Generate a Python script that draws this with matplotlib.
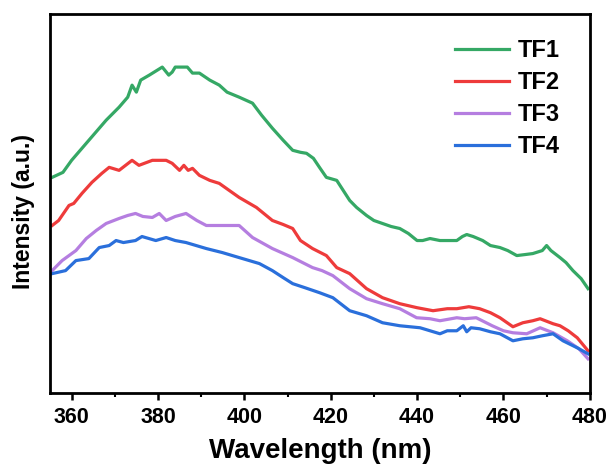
import matplotlib
matplotlib.use("Agg")
import matplotlib.pyplot as plt
from matplotlib.ticker import MultipleLocator
import numpy as np

plt.rcParams["font.family"] = ["Liberation Sans", "DejaVu Sans"]
plt.rcParams["font.weight"] = "bold"

# emission spectra (arbitrary intensity units)
wl_tf1 = [355.5, 358, 360, 362, 364, 366, 368, 371, 373, 374, 375, 376, 378, 381, 382.5,
          383.3, 384, 386.8, 388, 389.6, 392, 394.2, 396, 398.8, 401.9, 404, 406.5, 409,
          411.2, 413, 414.4, 416, 417.4, 419, 421.4, 424.4, 426, 428.3, 430, 432, 434, 436,
          438, 440, 441.3, 443, 445.3, 447, 449.2, 450.5, 451.5, 453, 455.2, 457, 459.2,
          461, 463.1, 465, 466.8, 469, 470, 471, 473.1, 474.5, 476.1, 478, 479.6]
tf1 = [215, 220, 232, 242, 252, 262, 272, 285, 295, 307, 300, 312, 317, 325, 317,
       320, 325, 325, 319, 319, 312, 307, 300, 295, 289, 277, 264, 252,
       242, 240, 239, 234, 225, 215, 212, 192, 185, 177, 172, 169, 166, 164,
       159, 152, 152, 154, 152, 152, 152, 156, 158, 156, 152, 147, 145,
       142, 137, 138, 139, 142, 147, 142, 135, 130, 122, 114, 104]

wl_tf2 = [355.5, 357, 359.4, 360.5, 362.4, 364.7, 367, 368.7, 371, 372.5, 374, 375.6,
          378.7, 381.9, 383.3, 385, 386, 387, 388, 389.6, 392, 394.2, 396.5, 398.8, 402.8,
          406.5, 409, 411.2, 413, 415.8, 419, 421.4, 424.4, 428.3, 432, 436, 440, 443.7,
          447, 449.2, 452, 454.5, 457, 459.2, 462.2, 464.5, 466.8, 468.5, 471.5, 473.1,
          475, 477.1, 479.6]
tf2 = [167, 172, 187, 189, 199, 210, 219, 225, 222, 227, 232, 227,
       232, 232, 229, 222, 227, 222, 224, 217, 212, 209, 202, 195, 185,
       172, 168, 164, 152, 144, 137, 125, 119, 104, 95, 89, 85, 82,
       84, 84, 86, 84, 80, 75, 66, 70, 72, 74, 69, 67,
       62, 55, 42]

wl_tf3 = [355.5, 357.8, 361, 363.4, 365.7, 368, 371, 373, 374.8, 376.5, 378.7, 380.3,
          381.9, 384, 386.5, 389, 391.2, 394.9, 398.8, 401.9, 406.5, 411.2, 413.5, 415.8,
          418, 420.5, 424.4, 428.3, 432, 436, 439.9, 443, 445.3, 449.2, 451, 453.7, 457.4,
          460, 462.2, 465.4, 468.5, 471.5, 474.8, 477.5, 479.6]
tf3 = [122, 132, 142, 154, 162, 169, 174, 177, 179, 176, 175, 179,
       172, 176, 179, 172, 167, 167, 167, 155, 144, 135, 130, 125,
       122, 117, 104, 94, 89, 84, 75, 74, 72, 75, 74, 75, 67,
       62, 60, 59, 65, 60, 52, 44, 34]

wl_tf4 = [355.5, 358.6, 361, 364, 366.4, 368.7, 370.3, 372, 374.8, 376.3, 379.5, 381.9,
          384, 386.5, 391.2, 394.9, 398.8, 403.5, 406.5, 409, 411.2, 414, 417.4, 420.5,
          424.4, 428.3, 432, 436, 440.7, 445.3, 447, 449.2, 450.7, 451.5, 452.5, 454.5,
          457, 459.2, 462.2, 464.5, 466.8, 469, 471.5, 473.8, 477.1, 479.6]
tf4 = [119, 122, 132, 134, 145, 147, 152, 150, 152, 156, 152, 155,
       152, 150, 144, 140, 135, 129, 122, 115, 109, 105, 100, 95,
       82, 77, 70, 67, 65, 59, 62, 62, 67, 61, 65, 64,
       61, 59, 52, 54, 55, 57, 59, 52, 45, 39]

labels = ["TF1", "TF2", "TF3", "TF4"]
colors = ["#35a865", "#ee3b3b", "#b57ee0", "#2a6fdb"]

fig = plt.figure(figsize=(6.12, 4.65), dpi=100)
ax = fig.add_axes([0.0817, 0.155, 0.882, 0.815])

series = [(wl_tf1, tf1), (wl_tf2, tf2), (wl_tf3, tf3), (wl_tf4, tf4)]
for (wl, y), lab, c in zip(series, labels, colors):
    ax.plot(wl, y, color=c, lw=2.3, label=lab)

ax.set_xlim(355, 480)
ax.set_ylim(0, 378)
ax.xaxis.set_major_locator(MultipleLocator(20))
ax.xaxis.set_minor_locator(MultipleLocator(10))
ax.set_yticks([])
ax.tick_params(axis="x", which="major", direction="out", length=5, width=1.8,
               labelsize=15.5, pad=5)
ax.tick_params(axis="x", which="minor", direction="out", length=3, width=1.5)
for lbl in ax.get_xticklabels():
    lbl.set_fontweight("bold")
for s in ax.spines.values():
    s.set_linewidth(2.0)

ax.set_xlabel("Wavelength (nm)", fontsize=20, fontweight="bold", labelpad=7)
ax.set_ylabel("Intensity (a.u.)", fontsize=16.5, fontweight="bold")
ax.yaxis.set_label_coords(-0.028, 0.48)

leg = ax.legend(loc="upper left", bbox_to_anchor=(455 / 612, 1 - 39 / 465),
                bbox_transform=fig.transFigure, frameon=False,
                prop={"size": 17, "weight": "bold"}, handlelength=2.3,
                labelspacing=0.38, handletextpad=0.35, borderpad=0, borderaxespad=0)

fig.savefig("out.png", dpi=100)
